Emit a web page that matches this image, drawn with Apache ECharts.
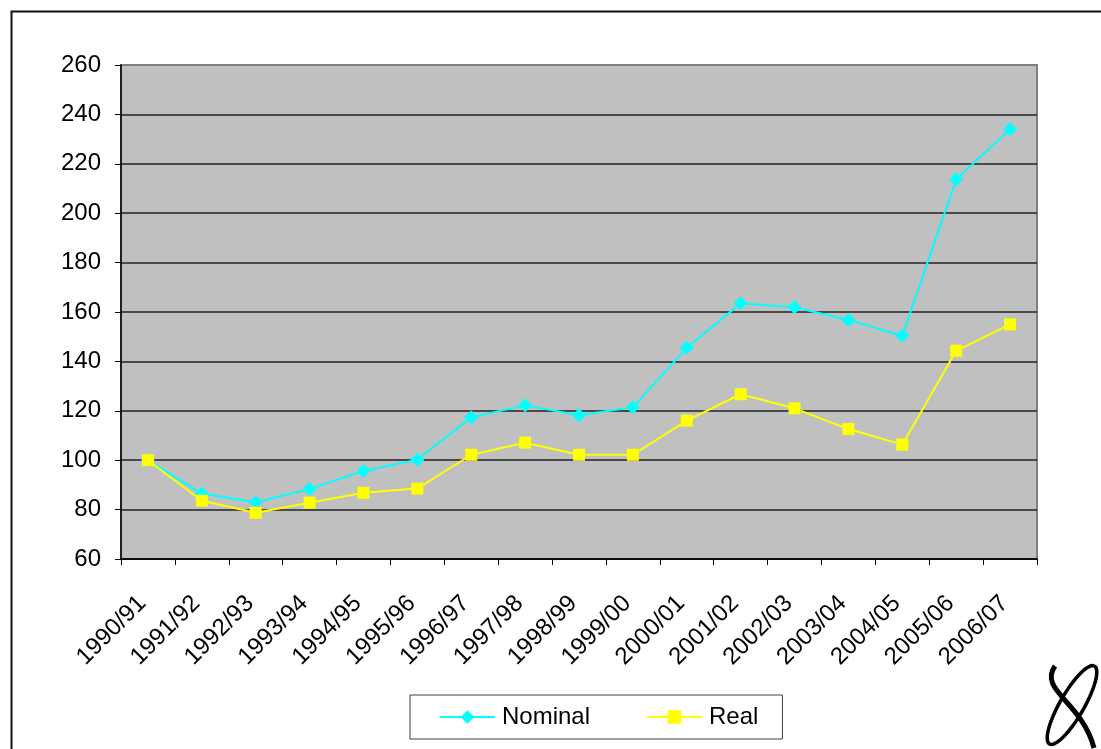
<!DOCTYPE html>
<html>
<head>
<meta charset="utf-8">
<title>Nominal and Real</title>
<script src="https://cdn.jsdelivr.net/npm/echarts@6/dist/echarts.min.js"></script>
<style>
  html, body { margin: 0; padding: 0; background: #ffffff; }
  #chart { width: 1101px; height: 749px; }
</style>
</head>
<body>
<div id="chart"></div>
<script>
// Financial years on the category axis
const years = [
  '1990/91', '1991/92', '1992/93', '1993/94', '1994/95', '1995/96',
  '1996/97', '1997/98', '1998/99', '1999/00', '2000/01', '2001/02',
  '2002/03', '2003/04', '2004/05', '2005/06', '2006/07'
];

// Index values, 1990/91 = 100
const nominal = [100, 86.5, 83, 88.3, 95.6, 100.2, 117.4, 122.2, 118.2, 121.4,
                 145.5, 163.5, 161.9, 156.8, 150.4, 213.7, 234];
const real = [100, 83.6, 78.7, 82.8, 86.8, 88.5, 102.2, 107.1, 102.2, 102.2,
              116, 126.7, 121, 112.6, 106.3, 144.3, 155];

// Value axis scale
const yMin = 60;
const yMax = 260;
const yStep = 20;

const FONT = '"Liberation Sans", Arial, sans-serif';

// Gridline colours: black inside the plot, grey for the top edge
const gridColors = [];
for (let v = yMin; v <= yMax; v += yStep) {
  gridColors.push(v === yMax ? '#808080' : '#222222');
}

// Points of the small ellipse in the corner emblem
function ellipsePoints(cx, cy, a, b, angleDeg, n) {
  const t = angleDeg * Math.PI / 180;
  const pts = [];
  for (let i = 0; i <= n; i++) {
    const u = (i / n) * Math.PI * 2;
    const x = a * Math.cos(u);
    const y = b * Math.sin(u);
    pts.push([cx + x * Math.cos(t) - y * Math.sin(t), cy + x * Math.sin(t) + y * Math.cos(t)]);
  }
  return pts;
}

const chart = echarts.init(document.getElementById('chart'), null, { renderer: 'canvas' });

chart.setOption({
  animation: false,
  backgroundColor: '#ffffff',
  textStyle: { fontFamily: FONT },
  grid: {
    left: 121,
    top: 65,
    right: 64,
    bottom: 190,
    show: true,
    backgroundColor: '#C0C0C0',
    borderColor: '#808080',
    borderWidth: 2
  },
  legend: {
    left: 410,
    top: 695,
    orient: 'horizontal',
    data: ['Nominal', 'Real'],
    itemWidth: 55,
    itemHeight: 17,
    itemGap: 56,
    padding: [10, 24, 10, 29],
    borderColor: '#404040',
    borderWidth: 1,
    backgroundColor: '#ffffff',
    textStyle: { fontSize: 24, color: '#000', fontFamily: FONT, padding: [0, 0, 0, 2] }
  },
  xAxis: {
    type: 'category',
    data: years,
    boundaryGap: true,
    axisLine: { show: true, lineStyle: { color: '#000', width: 1.5 } },
    axisTick: { show: true, length: 6, inside: false, lineStyle: { color: '#000' } },
    axisLabel: {
      interval: 0,
      rotate: 45,
      margin: 35,
      padding: [0, 8, 0, 0],
      fontSize: 24,
      color: '#000',
      fontFamily: FONT
    },
    splitLine: { show: false }
  },
  yAxis: {
    type: 'value',
    min: yMin,
    max: yMax,
    interval: yStep,
    axisLine: { show: true, lineStyle: { color: '#000', width: 1.5 } },
    axisTick: { show: true, length: 6, inside: false, lineStyle: { color: '#000' } },
    axisLabel: { margin: 20, fontSize: 24, color: '#000', fontFamily: FONT },
    splitLine: { show: true, lineStyle: { color: gridColors, width: 1.5 } }
  },
  series: [
    {
      name: 'Nominal',
      type: 'line',
      data: nominal,
      symbol: 'diamond',
      symbolSize: 14,
      showAllSymbol: true,
      lineStyle: { color: '#00FFFF', width: 2 },
      itemStyle: { color: '#00FFFF', borderWidth: 0 },
      z: 3
    },
    {
      name: 'Real',
      type: 'line',
      data: real,
      symbol: 'rect',
      symbolSize: 12,
      showAllSymbol: true,
      lineStyle: { color: '#FFFF00', width: 2 },
      itemStyle: { color: '#FFFF00', borderWidth: 0 },
      z: 4
    }
  ],
  graphic: [
    // Page frame
    {
      type: 'rect',
      left: 9, top: 9,
      shape: { x: 0, y: 0, width: 1200, height: 800 },
      style: { fill: 'none', stroke: '#111', lineWidth: 2 },
      silent: true,
      z: 0
    },
    // Corner emblem
    {
      type: 'polyline',
      shape: { points: ellipsePoints(1072, 705, 45, 12, -60, 72) },
      style: { fill: 'none', stroke: '#000', lineWidth: 3.5 },
      silent: true
    },
    {
      type: 'bezierCurve',
      shape: { x1: 1055, y1: 666, cpx1: 1038, cpy1: 690, cpx2: 1082, cpy2: 702, x2: 1094, y2: 748 },
      style: { fill: 'none', stroke: '#000', lineWidth: 5 },
      silent: true
    }
  ]
});
</script>
</body>
</html>
